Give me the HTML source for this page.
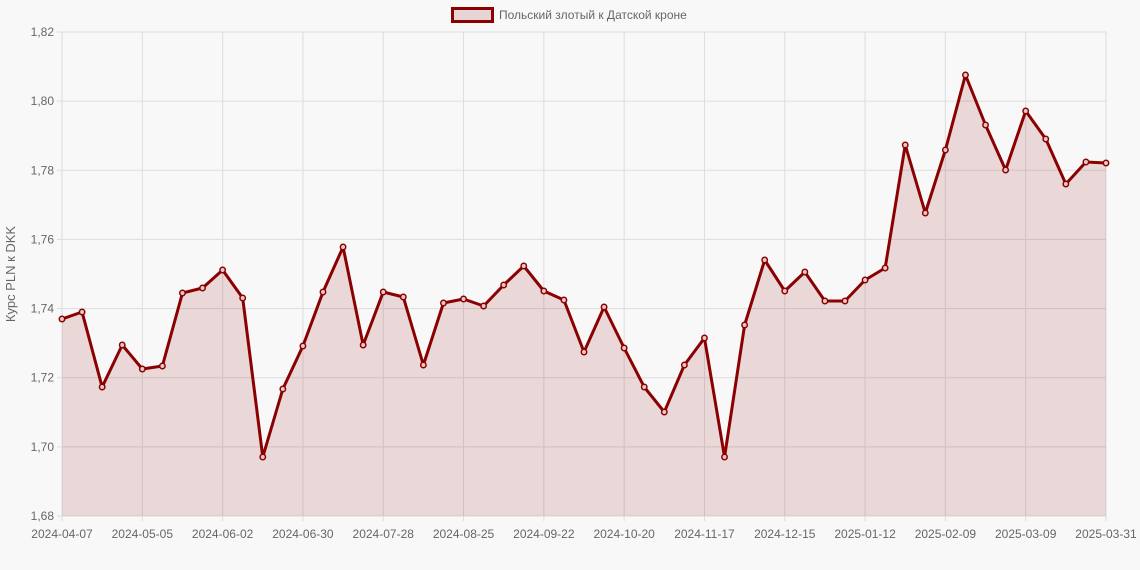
<!DOCTYPE html>
<html><head><meta charset="utf-8"><style>
html,body{margin:0;padding:0;background:#f8f8f8;}
svg{display:block;font-family:"Liberation Sans",sans-serif;}
</style></head><body>
<svg id="c" width="1140" height="570" xmlns="http://www.w3.org/2000/svg">
<rect x="0" y="0" width="1140" height="570" fill="#f8f8f8"/>
<g id="grid"></g>
<g id="data"></g>
<rect x="452.5" y="8.5" width="40" height="13" fill="#e8d4d4" stroke="#8b0000" stroke-width="3"/>
<text x="499" y="19" font-size="12" fill="#666">Польский злотый к Датской кроне</text>
<text transform="translate(15,274) rotate(-90)" text-anchor="middle" font-size="13" fill="#666">Курс PLN к DKK</text>
</svg>
<script>
const ys=[319,312,387,345,369,366,293,288,270,298,457,389,346,292,247,345,292,297,365,303,299,306,285,266,291,300,352,307,348,387,412,365,338,457,325,260,291,272,301,301,280,268,145,213,150,75,125,170,111,139,184,162,163];
const x0=62,x1=1106,yt=32,yb=516;
const step=(x1-x0)/52;
let g='';
const yl=['1,82','1,80','1,78','1,76','1,74','1,72','1,70','1,68'];
for(let i=0;i<8;i++){const y=yt+(yb-yt)*i/7;
g+=`<line x1="${x0-5}" x2="${x1}" y1="${y}" y2="${y}" stroke="#ddd" stroke-width="1"/>`;
g+=`<text x="${x0-8}" y="${y+4}" text-anchor="end" font-size="12" fill="#666">${yl[i]}</text>`;}
const xl=['2024-04-07','2024-05-05','2024-06-02','2024-06-30','2024-07-28','2024-08-25','2024-09-22','2024-10-20','2024-11-17','2024-12-15','2025-01-12','2025-02-09','2025-03-09','2025-03-31'];
for(let i=0;i<14;i++){const idx=i<13?i*4:52;const x=x0+idx*step;
g+=`<line x1="${x}" x2="${x}" y1="${yt}" y2="${yb+5}" stroke="#ddd" stroke-width="1"/>`;
g+=`<text x="${x}" y="${yb+22}" text-anchor="middle" font-size="12" fill="#666">${xl[i]}</text>`;}
document.getElementById('grid').innerHTML=g;
let pts=ys.map((y,i)=>[x0+i*step,y]);
let line=pts.map(p=>p.join(',')).join(' ');
let d='';
d+=`<polygon points="${x0},${yb} ${line} ${x1},${yb}" fill="rgba(139,0,0,0.13)"/>`;
d+=`<polyline points="${line}" fill="none" stroke="#8b0000" stroke-width="3" stroke-linejoin="round"/>`;
pts.forEach(p=>{d+=`<circle cx="${p[0]}" cy="${p[1]}" r="2.7" fill="#e8c8c8" stroke="#8b0000" stroke-width="1.5"/>`;});
document.getElementById('data').innerHTML=d;
</script>
</body></html>
